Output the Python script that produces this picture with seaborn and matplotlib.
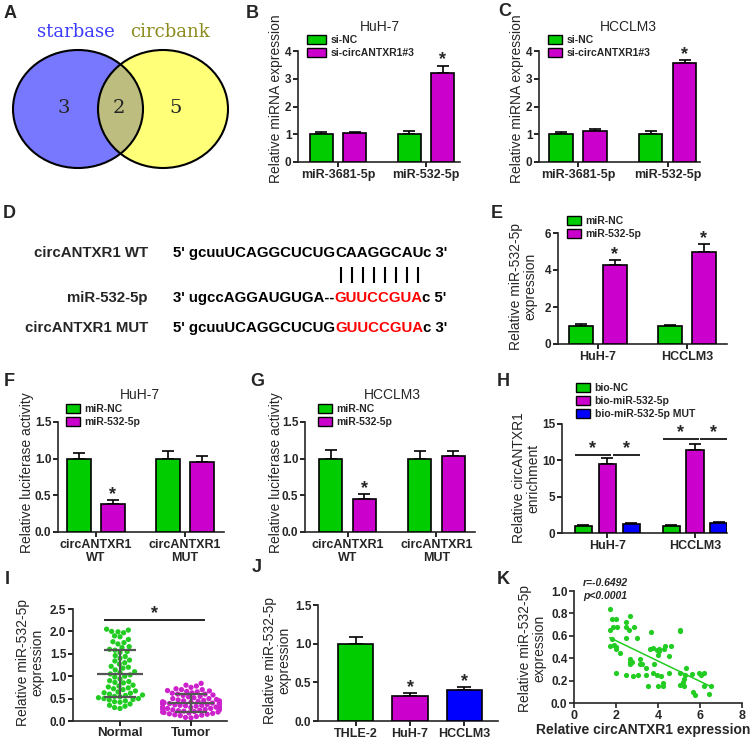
import numpy as np
import pandas as pd
import matplotlib
matplotlib.use("Agg")
import matplotlib.pyplot as plt
import seaborn as sns
from matplotlib.patches import Ellipse, Patch

# ---------------- data ----------------
venn_sets = ["starbase", "circbank"]
venn_counts = [3, 2, 5]

b_groups = ["miR-3681-5p", "miR-532-5p"]
b_hue = ["si-NC", "si-circANTXR1#3"]
b_nc, b_nc_err = [1.0, 1.0], [0.07, 0.10]
b_si, b_si_err = [1.03, 3.22], [0.05, 0.25]
c_nc, c_nc_err = [1.0, 1.0], [0.07, 0.10]
c_si, c_si_err = [1.12, 3.55], [0.07, 0.13]

cell_groups = ["HuH-7", "HCCLM3"]
mir_hue = ["miR-NC", "miR-532-5p"]
e_nc, e_nc_err = [1.0, 1.0], [0.06, 0.04]
e_mir, e_mir_err = [4.25, 5.0], [0.28, 0.40]

d_names = ["circANTXR1 WT", "miR-532-5p", "circANTXR1 MUT"]
d_seqs = [[("5' gcuuUCAGGCUCUG", "black"), ("CAAGGCAU", "black"), ("c 3'", "black")],
          [("3' ugccAGGAUGUGA--", "black"), ("GUUCCGUA", "red"), ("c 5'", "black")],
          [("5' gcuuUCAGGCUCUG", "black"), ("GUUCCGUA", "red"), ("c 3'", "black")]]

luc_groups = ["circANTXR1\nWT", "circANTXR1\nMUT"]
f_nc, f_nc_err = [1.0, 1.0], [0.08, 0.10]
f_mir, f_mir_err = [0.38, 0.96], [0.05, 0.08]
g_nc, g_nc_err = [1.0, 1.0], [0.12, 0.11]
g_mir, g_mir_err = [0.45, 1.03], [0.07, 0.07]

h_hue = ["bio-NC", "bio-miR-532-5p", "bio-miR-532-5p MUT"]
h_nc, h_nc_err = [1.0, 1.0], [0.05, 0.05]
h_mir, h_mir_err = [9.5, 11.4], [0.8, 0.9]
h_mut, h_mut_err = [1.3, 1.4], [0.08, 0.07]

i_groups = ["Normal", "Tumor"]
i_normal = [2.05, 2.03, 2.0, 1.99, 1.97, 1.9, 1.88, 1.82, 1.77, 1.75, 1.72, 1.66,
            1.64, 1.6, 1.58, 1.55, 1.53, 1.46, 1.44, 1.4, 1.36, 1.34, 1.3, 1.27,
            1.22, 1.2, 1.18, 1.14, 1.1, 1.08, 1.05, 1.03, 1.0, 0.98, 0.94, 0.9,
            0.88, 0.86, 0.85, 0.8, 0.78, 0.76, 0.74, 0.72, 0.7, 0.67, 0.65, 0.63,
            0.62, 0.6, 0.58, 0.57, 0.55, 0.54, 0.52, 0.5, 0.5, 0.48, 0.47, 0.45,
            0.43, 0.42, 0.38, 0.35, 0.33, 0.3, 0.28]
i_tumor = [0.84, 0.8, 0.78, 0.75, 0.72, 0.7, 0.7, 0.68, 0.67, 0.66, 0.65, 0.63,
           0.62, 0.6, 0.6, 0.58, 0.57, 0.55, 0.54, 0.52, 0.5, 0.5, 0.48, 0.47,
           0.46, 0.45, 0.45, 0.44, 0.43, 0.42, 0.41, 0.4, 0.4, 0.39, 0.38, 0.38,
           0.37, 0.36, 0.35, 0.35, 0.34, 0.33, 0.32, 0.31, 0.3, 0.3, 0.3, 0.29,
           0.28, 0.28, 0.27, 0.26, 0.25, 0.25, 0.24, 0.23, 0.22, 0.21, 0.2, 0.2,
           0.19, 0.18, 0.17, 0.16, 0.15, 0.14, 0.13, 0.12, 0.1, 0.08, 0.07]

j_cells = ["THLE-2", "HuH-7", "HCCLM3"]
j_mean, j_err = [1.0, 0.32, 0.40], [0.08, 0.04, 0.04]

k_x = [1.70, 1.70, 1.70, 1.83, 1.98, 1.86, 2.06, 1.81, 1.89, 1.98,
       1.98, 2.17, 2.02, 2.49, 2.46, 2.61, 2.65, 2.49, 2.88, 2.99,
       2.65, 2.69, 2.65, 2.77, 2.49, 2.80, 3.04, 3.15, 3.15, 3.24,
       3.43, 3.43, 3.54, 3.67, 3.64, 3.75, 3.75, 3.83, 3.94, 4.03,
       3.98, 4.06, 3.94, 4.14, 3.98, 4.25, 4.25, 4.30, 4.35, 4.54,
       4.61, 4.54, 5.06, 5.06, 5.06, 5.06, 5.23, 5.31, 5.30, 5.17,
       5.24, 5.64, 5.67, 5.76, 5.95, 6.03, 6.19, 6.19, 6.43, 6.54]
k_y = [0.84, 0.65, 0.51, 0.75, 0.75, 0.68, 0.68, 0.57, 0.52, 0.50,
       0.48, 0.45, 0.27, 0.72, 0.68, 0.65, 0.78, 0.58, 0.68, 0.58,
       0.39, 0.37, 0.35, 0.37, 0.25, 0.24, 0.25, 0.39, 0.35, 0.35,
       0.31, 0.25, 0.15, 0.63, 0.48, 0.49, 0.27, 0.35, 0.47, 0.48,
       0.43, 0.46, 0.25, 0.24, 0.15, 0.18, 0.15, 0.48, 0.51, 0.42,
       0.51, 0.27, 0.65, 0.64, 0.27, 0.16, 0.15, 0.31, 0.25, 0.19,
       0.21, 0.26, 0.10, 0.07, 0.27, 0.25, 0.27, 0.15, 0.08, 0.15]

GREEN, MAG, BLUE = "#00cc00", "#cc00cc", "#0000ff"

sns.set_theme(style="ticks")
plt.rcParams["font.family"] = ["Liberation Sans", "DejaVu Sans"]
plt.rcParams["axes.linewidth"] = 1.2

W, H = 753, 740
fig = plt.figure(figsize=(W / 100, H / 100), dpi=100)

# overlay axes in pixel coords for free text
ax0 = fig.add_axes([0, 0, 1, 1])
ax0.set_xlim(0, W)
ax0.set_ylim(H, 0)
ax0.axis("off")


def add_ax(l, t, r, b):
    return fig.add_axes([l / W, 1 - b / H, (r - l) / W, (b - t) / H])


def txt(x, y, s, **kw):
    kw.setdefault("ha", "center")
    kw.setdefault("va", "center")
    return ax0.text(x, y, s, **kw)


def bars(ax, groups, hues, means, errs, colors, width=0.76, gap=0.3):
    df = pd.DataFrame({"group": np.tile(groups, len(hues)),
                       "hue": np.repeat(hues, len(groups)),
                       "value": np.concatenate(means)})
    sns.barplot(data=df, x="group", y="value", hue="hue", order=groups,
                hue_order=hues, palette=colors, width=width, gap=gap,
                errorbar=None, saturation=1, edgecolor="black", linewidth=1.2,
                legend=False, ax=ax, zorder=3)
    tops = []
    for cont, err in zip(list(ax.containers), errs):
        xs = [p.get_x() + p.get_width() / 2 for p in cont]
        ys = [p.get_height() for p in cont]
        ax.errorbar(xs, ys, yerr=[np.zeros(len(err)), err], fmt="none",
                    ecolor="black", elinewidth=1.2, capsize=4, capthick=1.2,
                    zorder=2)
        tops.append([(x, y + e) for x, y, e in zip(xs, ys, err)])
    return tops


def star(ax, x, y, dy=-2):
    ax.annotate("*", (x, y), xytext=(0, dy), textcoords="offset points",
                ha="center", va="bottom", fontsize=13, fontweight="bold",
                annotation_clip=False)


def style(ax, xlim, yticks, fmt, xlabels, xsize=9):
    ax.set_xlim(*xlim)
    ax.set_ylim(yticks[0], yticks[-1])
    ax.set_yticks(yticks, [fmt.format(v) for v in yticks], fontsize=8.5,
                  fontweight="bold")
    ax.set_xticks(range(len(xlabels)), xlabels, fontsize=xsize,
                  fontweight="bold")
    ax.set_xlabel("")
    ax.set_ylabel("")
    sns.despine(ax=ax)
    ax.tick_params(width=1.2, length=3.5, pad=1.2, color="black")
    ax.set_facecolor("none")


def legend(ax, x, y, hues, colors, hl=1.3):
    handles = [Patch(facecolor=c, edgecolor="black", linewidth=1.0, label=h)
               for h, c in zip(hues, colors)]
    ax.legend(handles=handles, loc="upper left", bbox_to_anchor=(x, y),
              bbox_transform=ax0.transData, frameon=False,
              prop=dict(size=7.5, weight="bold"), handlelength=hl,
              handleheight=0.9, handletextpad=0.5, labelspacing=0.28,
              borderpad=0, borderaxespad=0)


# ---------------- A: Venn ----------------
axA = add_ax(0, 20, 245, 180)
axA.set_xlim(0, 245)
axA.set_ylim(180, 20)
axA.axis("off")
left = Ellipse((78, 109), 130, 118, facecolor="#7878ff", edgecolor="none")
right = Ellipse((163, 109), 130, 118, facecolor="#ffff78", edgecolor="none")
axA.add_patch(left)
axA.add_patch(right)
inter = Ellipse((163, 109), 130, 118, facecolor="#bdbd80", edgecolor="none")
axA.add_patch(inter)
inter.set_clip_path(left)
for cx in (78, 163):
    axA.add_patch(Ellipse((cx, 109), 130, 118, fill=False, edgecolor="black",
                          lw=1.5))
serif = ["DejaVu Serif"]
axA.text(76, 32, venn_sets[0], color="#3c3cff", fontsize=13, family=serif,
         ha="center", va="center")
axA.text(170, 32, venn_sets[1], color="#8c8c1e", fontsize=13, family=serif,
         ha="center", va="center")
for x, n in zip((64, 119, 176), venn_counts):
    axA.text(x, 108, str(n), fontsize=14, family=serif, ha="center",
             va="center")

# ---------------- B ----------------
axB = add_ax(298, 51, 460, 162)
tops = bars(axB, b_groups, b_hue, [b_nc, b_si], [b_nc_err, b_si_err],
            [GREEN, MAG])
style(axB, (-0.455, 1.386), [0, 1, 2, 3, 4], "{:g}", b_groups)
star(axB, *tops[1][1])
legend(axB, 307, 35, b_hue, [GREEN, MAG], hl=1.8)

# ---------------- C ----------------
axC = add_ax(539, 51, 700, 162)
tops = bars(axC, b_groups, b_hue, [c_nc, c_si], [c_nc_err, c_si_err],
            [GREEN, MAG])
style(axC, (-0.436, 1.363), [0, 1, 2, 3, 4], "{:g}", b_groups)
star(axC, *tops[1][1])
legend(axC, 548, 35, b_hue, [GREEN, MAG], hl=1.3)

# ---------------- E ----------------
axE = add_ax(558, 233, 727, 344)
tops = bars(axE, cell_groups, mir_hue, [e_nc, e_mir], [e_nc_err, e_mir_err],
            [GREEN, MAG])
style(axE, (-0.449, 1.45), [0, 2, 4, 6], "{:g}", cell_groups)
for t in tops[1]:
    star(axE, *t)
legend(axE, 567, 216, mir_hue, [GREEN, MAG])

# ---------------- F ----------------
axF = add_ax(58, 422, 224, 532)
tops = bars(axF, luc_groups, mir_hue, [f_nc, f_mir], [f_nc_err, f_mir_err],
            [GREEN, MAG])
style(axF, (-0.423, 1.437), [0, 0.5, 1.0, 1.5], "{:.1f}", luc_groups)
star(axF, *tops[1][0])
legend(axF, 66, 404, mir_hue, [GREEN, MAG])

# ---------------- G ----------------
axG = add_ax(305, 422, 475, 532)
tops = bars(axG, luc_groups, mir_hue, [g_nc, g_mir], [g_nc_err, g_mir_err],
            [GREEN, MAG])
style(axG, (-0.478, 1.433), [0, 0.5, 1.0, 1.5], "{:.1f}", luc_groups)
star(axG, *tops[1][0])
legend(axG, 318, 404, mir_hue, [GREEN, MAG])

# ---------------- H ----------------
axH = add_ax(562, 424, 727, 533)
tops = bars(axH, cell_groups, h_hue, [h_nc, h_mir, h_mut],
            [h_nc_err, h_mir_err, h_mut_err], [GREEN, MAG, BLUE],
            width=0.82, gap=0.29)
style(axH, (-0.517, 1.365), [0, 5, 10, 15], "{:g}", cell_groups)
bw = axH.patches[0].get_width()
for k, ly in enumerate([10.7, 12.9]):
    xg, xm, xb = tops[0][k][0], tops[1][k][0], tops[2][k][0]
    segs = [(xg - bw / 2, xm + 0.04), (xm + 0.06, xb + bw / 2)]
    for a, b in segs:
        axH.hlines(ly, a, b, color="black", lw=1.2, clip_on=False)
        star(axH, (a + b) / 2, ly, dy=-1)
legend(axH, 576, 383, h_hue, [GREEN, MAG, BLUE])

# ---------------- I ----------------
axI = add_ax(73, 609, 227, 721)
df_i = pd.DataFrame({"group": ["Normal"] * len(i_normal) + ["Tumor"] * len(i_tumor),
                     "value": i_normal + i_tumor})
sns.swarmplot(data=df_i, x="group", y="value", hue="group", order=i_groups,
              palette=["#22cc22", "#cc22cc"], size=3.8, legend=False, ax=axI,
              zorder=2)
for k, vals in enumerate([i_normal, i_tumor]):
    m, s = np.mean(vals), np.std(vals, ddof=1)
    axI.hlines(m, k - 0.33, k + 0.33, color="#555555", lw=1.6, zorder=3)
    axI.hlines([m - s, m + s], k - 0.22, k + 0.22, color="#555555", lw=1.6,
               zorder=3)
    axI.vlines(k, m - s, m + s, color="#555555", lw=1.6, zorder=3)
style(axI, (-0.662, 1.507), [0, 0.5, 1.0, 1.5, 2.0, 2.5], "{:.1f}", i_groups,
      xsize=9.5)
axI.tick_params(axis="x", pad=0.5)
axI.hlines(2.245, -0.23, 1.2, color="black", lw=1.2)
star(axI, 0.49, 2.245, dy=-1)

# ---------------- J ----------------
axJ = add_ax(318, 605, 498, 721)
sns.barplot(x=j_cells, y=j_mean, hue=j_cells, palette=[GREEN, MAG, BLUE],
            width=0.65, saturation=1, errorbar=None, edgecolor="black",
            linewidth=1.2, legend=False, ax=axJ, zorder=3)
jtops = []
for cont, e in zip(list(axJ.containers), j_err):
    p = cont[0]
    x, y = p.get_x() + p.get_width() / 2, p.get_height()
    axJ.errorbar([x], [y], yerr=[[0], [e]], fmt="none", ecolor="black",
                 elinewidth=1.2, capsize=5, capthick=1.2, zorder=2)
    jtops.append((x, y + e))
style(axJ, (-0.694, 2.62), [0, 0.5, 1.0, 1.5], "{:.1f}", j_cells)
star(axJ, *jtops[1])
star(axJ, *jtops[2])

# ---------------- K ----------------
axK = add_ax(574, 591, 742, 703)
sns.regplot(x=k_x, y=k_y, ci=None, color="#22cc22", ax=axK,
            scatter_kws=dict(s=14, linewidths=0, alpha=1),
            line_kws=dict(lw=1.1))
axK.set_xlim(0, 8)
axK.set_ylim(0, 1)
axK.set_xticks([0, 2, 4, 6, 8], ["0", "2", "4", "6", "8"], fontsize=9,
               fontweight="bold")
axK.set_yticks([0, 0.2, 0.4, 0.6, 0.8, 1.0],
               ["0.0", "0.2", "0.4", "0.6", "0.8", "1.0"], fontsize=8.5,
               fontweight="bold")
axK.set_xlabel("")
axK.set_ylabel("")
sns.despine(ax=axK)
axK.tick_params(width=1.2, length=3.5, pad=1.2)
axK.set_facecolor("none")
txt(583, 583, "r=-0.6492", ha="left", fontsize=7.5, fontweight="bold",
    style="italic")
txt(583, 596, "p<0.0001", ha="left", fontsize=7.5, fontweight="bold",
    style="italic")
txt(643, 730, "Relative circANTXR1 expression", fontsize=10,
    fontweight="bold")

# ---------------- text: letters, titles, y labels ----------------
for s, x, y in [("A", 10, 13), ("B", 252, 13), ("C", 505, 12), ("D", 9, 213),
                ("E", 497, 213), ("F", 9, 382), ("G", 257, 382),
                ("H", 503, 382), ("I", 7, 580), ("J", 257, 568),
                ("K", 503, 580)]:
    txt(x, y, s, fontsize=13, fontweight="bold")

for s, x, y in [("HuH-7", 380, 27), ("HCCLM3", 628, 27), ("HuH-7", 140, 395),
                ("HCCLM3", 392, 395)]:
    txt(x, y, s, fontsize=10)

for s, x, y in [("Relative miRNA expression", 276, 99),
                ("Relative miRNA expression", 517, 99),
                ("Relative miR-532-5p\nexpression", 523, 286),
                ("Relative luciferase activity", 27, 473),
                ("Relative luciferase activity", 276, 473),
                ("Relative circANTXR1\nenrichment", 526, 478),
                ("Relative miR-532-5p\nexpression", 30, 662),
                ("Relative miR-532-5p\nexpression", 277, 660),
                ("Relative miR-532-5p\nexpression", 532, 648)]:
    txt(x, y, s, fontsize=10, rotation=90, linespacing=1.0)

# ---------------- D: sequences ----------------
seq_kw = dict(fontsize=10.8, fontweight="bold")
mid = None
for row, (name, segs, y) in enumerate(zip(d_names, d_seqs, [253, 298, 328])):
    txt(148, y, name, ha="right", **seq_kw)
    prev = txt(173, y, segs[0][0], ha="left", color=segs[0][1], **seq_kw)
    for k, (s, c) in enumerate(segs[1:]):
        prev = ax0.annotate(s, xy=(1, 0), xycoords=prev, ha="left",
                            va="bottom", color=c, **seq_kw)
        if row == 0 and k == 0:
            mid = prev

fig.canvas.draw()
bb = mid.get_window_extent()
inv = ax0.transData.inverted()
x0 = inv.transform((bb.x0, bb.y0))[0]
x1 = inv.transform((bb.x1, bb.y0))[0]
step = (x1 - x0) / len(d_seqs[0][1][0])
ax0.vlines(x0 + step * (np.arange(len(d_seqs[0][1][0])) + 0.5), 267, 283,
           color="black", lw=1.5)

fig.savefig("out.png", dpi=100)
